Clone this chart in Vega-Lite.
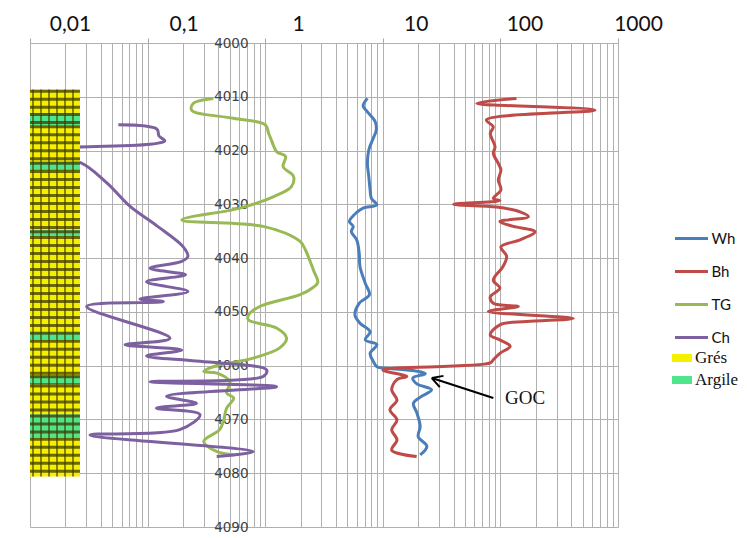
{
  "$schema": "https://vega.github.io/schema/vega-lite/v6.json",
  "width": 588,
  "height": 484,
  "autosize": {"type": "none"},
  "padding": {"left": 30, "top": 43, "right": 129, "bottom": 11},
  "background": "white",
  "config": {"view": {"stroke": null}},
  "datasets": {
    "logs": [
      {"s":"Wh","d":4010.3,"v":7.4},{"s":"Wh","d":4011.7,"v":6.8},{"s":"Wh","d":4012.8,"v":7.4},{"s":"Wh","d":4014.6,"v":8.6},
      {"s":"Wh","d":4016.2,"v":8.8},{"s":"Wh","d":4017.7,"v":8.3},{"s":"Wh","d":4019.9,"v":7.6},{"s":"Wh","d":4022.4,"v":7.4},
      {"s":"Wh","d":4024.8,"v":7.6},{"s":"Wh","d":4027.3,"v":7.8},{"s":"Wh","d":4028.9,"v":8.0},{"s":"Wh","d":4030.1,"v":8.9},
      {"s":"Wh","d":4030.7,"v":6.8},{"s":"Wh","d":4031.5,"v":6.0},{"s":"Wh","d":4033.2,"v":5.2},{"s":"Wh","d":4034.1,"v":5.6},
      {"s":"Wh","d":4035.1,"v":5.4},{"s":"Wh","d":4036.6,"v":6.0},{"s":"Wh","d":4039.1,"v":6.3},{"s":"Wh","d":4041.6,"v":6.4},
      {"s":"Wh","d":4044.7,"v":7.1},{"s":"Wh","d":4046.8,"v":7.7},{"s":"Wh","d":4048.4,"v":6.3},{"s":"Wh","d":4050.6,"v":5.8},
      {"s":"Wh","d":4052.1,"v":6.4},{"s":"Wh","d":4053.7,"v":7.8},{"s":"Wh","d":4055.2,"v":7.1},{"s":"Wh","d":4056.1,"v":8.9},
      {"s":"Wh","d":4057.7,"v":7.8},{"s":"Wh","d":4059.2,"v":8.3},{"s":"Wh","d":4060.2,"v":8.9},{"s":"Wh","d":4060.5,"v":11},
      {"s":"Wh","d":4061.0,"v":19},{"s":"Wh","d":4061.5,"v":23},{"s":"Wh","d":4062.3,"v":18},{"s":"Wh","d":4063.4,"v":19.5},
      {"s":"Wh","d":4064.5,"v":26},{"s":"Wh","d":4065.8,"v":21},{"s":"Wh","d":4067.0,"v":18.2},{"s":"Wh","d":4068.8,"v":19.5},
      {"s":"Wh","d":4071.3,"v":20.8},{"s":"Wh","d":4073.2,"v":20.0},{"s":"Wh","d":4075.0,"v":23.7},{"s":"Wh","d":4076.6,"v":20.8},

      {"s":"Bh","d":4010.3,"v":137},{"s":"Bh","d":4011.2,"v":63},{"s":"Bh","d":4012.5,"v":637},{"s":"Bh","d":4014.3,"v":76},
      {"s":"Bh","d":4015.6,"v":87},{"s":"Bh","d":4016.8,"v":82},{"s":"Bh","d":4019.3,"v":90},{"s":"Bh","d":4020.5,"v":87},
      {"s":"Bh","d":4022.4,"v":96},{"s":"Bh","d":4023.6,"v":101},{"s":"Bh","d":4025.5,"v":96},{"s":"Bh","d":4027.3,"v":101},
      {"s":"Bh","d":4028.9,"v":87},{"s":"Bh","d":4029.3,"v":99},{"s":"Bh","d":4030.0,"v":40},{"s":"Bh","d":4030.5,"v":93},
      {"s":"Bh","d":4031.4,"v":147},{"s":"Bh","d":4032.3,"v":173},{"s":"Bh","d":4033.2,"v":99},{"s":"Bh","d":4034.1,"v":129},
      {"s":"Bh","d":4035.1,"v":197},{"s":"Bh","d":4036.6,"v":147},{"s":"Bh","d":4037.9,"v":101},{"s":"Bh","d":4039.7,"v":113},
      {"s":"Bh","d":4041.6,"v":105},{"s":"Bh","d":4044.1,"v":87},{"s":"Bh","d":4045.6,"v":99},{"s":"Bh","d":4047.2,"v":82},
      {"s":"Bh","d":4048.4,"v":87},{"s":"Bh","d":4049.0,"v":142},{"s":"Bh","d":4049.9,"v":79},{"s":"Bh","d":4051.2,"v":417},
      {"s":"Bh","d":4051.8,"v":167},{"s":"Bh","d":4052.4,"v":99},{"s":"Bh","d":4054.3,"v":82},{"s":"Bh","d":4055.2,"v":99},
      {"s":"Bh","d":4056.4,"v":121},{"s":"Bh","d":4057.7,"v":99},{"s":"Bh","d":4058.9,"v":87},{"s":"Bh","d":4059.5,"v":82},
      {"s":"Bh","d":4060.8,"v":10.0},{"s":"Bh","d":4062.0,"v":16},{"s":"Bh","d":4062.6,"v":13.2},{"s":"Bh","d":4064.5,"v":11.9},
      {"s":"Bh","d":4066.4,"v":13.2},{"s":"Bh","d":4068.2,"v":11.5},{"s":"Bh","d":4070.1,"v":13.2},{"s":"Bh","d":4071.9,"v":11.9},
      {"s":"Bh","d":4073.8,"v":13.2},{"s":"Bh","d":4075.7,"v":11.9},{"s":"Bh","d":4076.9,"v":19.4},

      {"s":"TG","d":4010.3,"v":0.362},{"s":"TG","d":4011.2,"v":0.245},{"s":"TG","d":4012.5,"v":0.237},{"s":"TG","d":4014.0,"v":0.536},
      {"s":"TG","d":4015.2,"v":1.0},{"s":"TG","d":4016.8,"v":1.07},{"s":"TG","d":4018.3,"v":1.14},{"s":"TG","d":4020.2,"v":1.25},
      {"s":"TG","d":4021.1,"v":1.49},{"s":"TG","d":4023.0,"v":1.42},{"s":"TG","d":4024.8,"v":1.74},{"s":"TG","d":4026.7,"v":1.67},
      {"s":"TG","d":4028.6,"v":1.17},{"s":"TG","d":4030.7,"v":0.61},{"s":"TG","d":4032.9,"v":0.195},{"s":"TG","d":4034.1,"v":0.96},
      {"s":"TG","d":4036.9,"v":1.98},{"s":"TG","d":4038.5,"v":2.2},{"s":"TG","d":4040.5,"v":2.4},{"s":"TG","d":4042.5,"v":2.6},
      {"s":"TG","d":4044.5,"v":2.8},{"s":"TG","d":4045.6,"v":2.5},{"s":"TG","d":4046.8,"v":1.98},{"s":"TG","d":4049.0,"v":0.9},
      {"s":"TG","d":4050.6,"v":0.72},{"s":"TG","d":4051.5,"v":0.72},{"s":"TG","d":4053.0,"v":1.25},{"s":"TG","d":4054.9,"v":1.52},
      {"s":"TG","d":4056.7,"v":1.33},{"s":"TG","d":4058.6,"v":0.79},{"s":"TG","d":4060.2,"v":0.362},{"s":"TG","d":4061.1,"v":0.30},
      {"s":"TG","d":4061.4,"v":0.39},{"s":"TG","d":4063.0,"v":0.50},{"s":"TG","d":4065.1,"v":0.47},{"s":"TG","d":4066.0,"v":0.54},
      {"s":"TG","d":4067.9,"v":0.47},{"s":"TG","d":4070.4,"v":0.44},{"s":"TG","d":4071.9,"v":0.41},{"s":"TG","d":4074.1,"v":0.30},
      {"s":"TG","d":4076.0,"v":0.39},{"s":"TG","d":4076.6,"v":0.54},

      {"s":"Ch","d":4015.2,"v":0.0564},{"s":"Ch","d":4016.0,"v":0.12},{"s":"Ch","d":4017.3,"v":0.125},{"s":"Ch","d":4018.2,"v":0.14},
      {"s":"Ch","d":4018.8,"v":0.11},{"s":"Ch","d":4020.3,"v":0.0102},{"s":"Ch","d":4021.2,"v":0.0105},{"s":"Ch","d":4022.1,"v":0.026},
      {"s":"Ch","d":4026.0,"v":0.045},{"s":"Ch","d":4030.4,"v":0.071},{"s":"Ch","d":4034.0,"v":0.12},
      {"s":"Ch","d":4037.9,"v":0.201},{"s":"Ch","d":4039.7,"v":0.22},{"s":"Ch","d":4040.6,"v":0.195},{"s":"Ch","d":4041.9,"v":0.105},
      {"s":"Ch","d":4043.1,"v":0.21},{"s":"Ch","d":4044.4,"v":0.098},{"s":"Ch","d":4046.2,"v":0.22},{"s":"Ch","d":4047.6,"v":0.086},
      {"s":"Ch","d":4048.1,"v":0.136},{"s":"Ch","d":4049.0,"v":0.0303},{"s":"Ch","d":4054.9,"v":0.155},{"s":"Ch","d":4056.1,"v":0.0643},
      {"s":"Ch","d":4057.1,"v":0.195},{"s":"Ch","d":4058.2,"v":0.098},{"s":"Ch","d":4059.2,"v":0.279},{"s":"Ch","d":4060.8,"v":1.03},
      {"s":"Ch","d":4062.0,"v":0.96},{"s":"Ch","d":4063.0,"v":0.105},{"s":"Ch","d":4063.9,"v":1.25},{"s":"Ch","d":4065.7,"v":0.145},
      {"s":"Ch","d":4067.0,"v":0.26},{"s":"Ch","d":4067.9,"v":0.119},{"s":"Ch","d":4069.1,"v":0.279},{"s":"Ch","d":4071.9,"v":0.188},
      {"s":"Ch","d":4072.9,"v":0.0324},{"s":"Ch","d":4076.0,"v":0.79},{"s":"Ch","d":4076.9,"v":0.387}
    ],
    "litho": [
      {"lith":"Grés","top":4008.7,"bottom":4013.0},
      {"lith":"Argile","top":4013.0,"bottom":4015.3},
      {"lith":"Grés","top":4015.3,"bottom":4022.1},
      {"lith":"Argile","top":4022.1,"bottom":4023.6},
      {"lith":"Grés","top":4023.6,"bottom":4034.8},
      {"lith":"Argile","top":4034.8,"bottom":4035.9},
      {"lith":"Grés","top":4035.9,"bottom":4053.7},
      {"lith":"Argile","top":4053.7,"bottom":4055.2},
      {"lith":"Grés","top":4055.2,"bottom":4061.8},
      {"lith":"Argile","top":4061.8,"bottom":4063.5},
      {"lith":"Grés","top":4063.5,"bottom":4069.1},
      {"lith":"Argile","top":4069.1,"bottom":4073.4},
      {"lith":"Grés","top":4073.4,"bottom":4080.6}
    ],
    "arrow": [
      {"x":87,"y":4066.0,"x2":26.1,"y2":4062.3},
      {"x":26.1,"y":4062.3,"x2":30.5,"y2":4064.0},
      {"x":26.1,"y":4062.3,"x2":32.8,"y2":4061.9}
    ]
  },
  "layer": [
    {
      "data": {"name": "logs"},
      "mark": {"type": "line", "strokeWidth": 3, "interpolate": "catmull-rom", "clip": true},
      "encoding": {
        "x": {
          "field": "v", "type": "quantitative",
          "scale": {"type": "log", "domain": [0.01, 1000], "nice": false},
          "axis": {
            "orient": "top", "title": null,
            "values": [0.01,0.02,0.03,0.04,0.05,0.06,0.07,0.08,0.09,0.1,0.2,0.3,0.4,0.5,0.6,0.7,0.8,0.9,1,2,3,4,5,6,7,8,9,10,20,30,40,50,60,70,80,90,100,200,300,400,500,600,700,800,900,1000],
            "labelExpr": "datum.value == 0.01 ? '0,01' : datum.value == 0.1 ? '0,1' : datum.value == 1 ? '1' : datum.value == 10 ? '10' : datum.value == 100 ? '100' : datum.value == 1000 ? '1000' : ''",
            "labelFont": "Lato", "labelFontSize": 21, "labelColor": "#111111",
            "labelOverlap": false, "labelFlush": false, "labelBound": false,
            "labelOffset": {"condition": [{"test": "datum.value == 0.01", "value": 40}, {"test": "datum.value == 0.1", "value": 36}, {"test": "datum.value == 100", "value": 24}, {"test": "datum.value == 1000", "value": 20}], "value": 33},
            "labelPadding": 4, "tickSize": 5, "tickColor": "#a8a8a8",
            "tickOpacity": {"condition": {"test": "indexof([0.01,0.1,1,10,100,1000], datum.value) >= 0", "value": 1}, "value": 0},
            "domain": false, "grid": true, "gridColor": "#b0b0b0", "gridWidth": 1, "gridOpacity": 1
          }
        },
        "y": {
          "field": "d", "type": "quantitative",
          "scale": {"domain": [4000, 4090], "reverse": true, "nice": false, "zero": false},
          "axis": {
            "orient": "left", "title": null, "offset": -222,
            "values": [4000,4010,4020,4030,4040,4050,4060,4070,4080,4090],
            "format": "d", "labelFont": "DejaVu Sans", "labelFontSize": 13.5, "labelColor": "#404040",
            "labelPadding": 4, "ticks": false, "domain": false, "labelFlush": false, "labelBound": false,
            "grid": true, "gridColor": "#b0b0b0", "gridWidth": 1, "gridOpacity": 1
          }
        },
        "color": {
          "field": "s", "type": "nominal",
          "scale": {"domain": ["Wh","Bh","TG","Ch"], "range": ["#4A7EBB","#BE4B48","#98B954","#7D60A0"]},
          "legend": {
            "orient": "none", "legendX": 643.5, "legendY": 177.5, "title": null,
            "symbolType": "stroke", "symbolSize": 1089, "symbolStrokeWidth": 3,
            "labelFont": "Lato", "labelFontSize": 15, "labelColor": "#111111",
            "labelOffset": 2, "rowPadding": 7, "padding": 0
          }
        },
        "order": {"field": "d", "type": "quantitative"}
      }
    },
    {
      "data": {"name": "litho"},
      "mark": {"type": "rect"},
      "encoding": {
        "x": {"datum": 0.01, "type": "quantitative"},
        "x2": {"datum": 0.0266},
        "y": {"field": "top", "type": "quantitative"},
        "y2": {"field": "bottom"},
        "fill": {
          "field": "lith", "type": "nominal",
          "scale": {"domain": ["Grés","Argile"], "range": ["#F4F000","#4FE58A"]},
          "legend": {
            "orient": "none", "legendX": 642, "legendY": 305, "title": null,
            "symbolType": "M-1,-0.4H1V0.4H-1Z", "symbolSize": 400, "symbolStrokeWidth": 0, "symbolOpacity": 1,
            "labelFont": "Liberation Serif", "labelFontSize": 17, "labelColor": "#111111",
            "labelOffset": 3, "rowPadding": 4, "padding": 0
          }
        }
      }
    },
    {
      "data": {"name": "litho"},
      "mark": {"type": "rule", "strokeWidth": 50, "strokeDash": [3, 5], "color": "#3f3a00", "opacity": 0.75, "strokeCap": "butt"},
      "encoding": {
        "x": {"datum": 0.0163, "type": "quantitative"},
        "y": {"field": "top", "type": "quantitative"},
        "y2": {"field": "bottom"}
      }
    },
    {
      "data": {"values": [{"part": "column"}]},
      "mark": {"type": "rule", "strokeWidth": 387, "strokeDash": [2, 6], "color": "#3f3a00", "opacity": 0.6, "strokeCap": "butt"},
      "encoding": {
        "x": {"datum": 0.0104, "type": "quantitative"},
        "x2": {"datum": 0.0266},
        "y": {"datum": 4044.65, "type": "quantitative"}
      }
    },
    {
      "data": {"name": "arrow"},
      "mark": {"type": "rule", "strokeWidth": 2, "color": "#000000"},
      "encoding": {
        "x": {"field": "x", "type": "quantitative"},
        "x2": {"field": "x2"},
        "y": {"field": "y", "type": "quantitative"},
        "y2": {"field": "y2"}
      }
    },
    {
      "data": {"values": [{"label": "GOC", "v": 162, "d": 4066.1}]},
      "mark": {"type": "text", "font": "Liberation Serif", "fontSize": 19, "color": "#111111", "align": "center", "baseline": "middle"},
      "encoding": {
        "x": {"field": "v", "type": "quantitative"},
        "y": {"field": "d", "type": "quantitative"},
        "text": {"field": "label"}
      }
    }
  ]
}
